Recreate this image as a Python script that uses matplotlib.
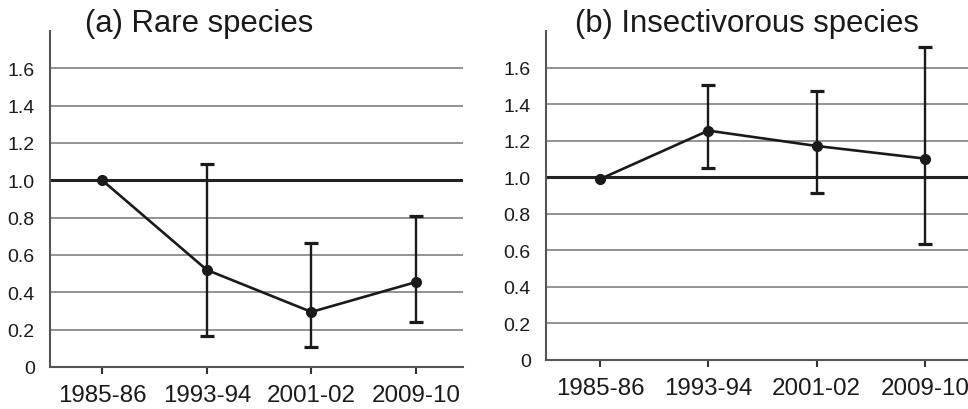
import matplotlib.pyplot as plt

plt.rcParams['font.family'] = ['Liberation Sans', 'DejaVu Sans']

periods = ['1985-86', '1993-94', '2001-02', '2009-10']

rare_mean = [1.0, 0.52, 0.295, 0.455]
rare_low = [1.0, 0.168, 0.106, 0.242]
rare_high = [1.0, 1.088, 0.663, 0.808]

insect_mean = [0.99, 1.255, 1.171, 1.102]
insect_low = [0.99, 1.049, 0.915, 0.634]
insect_high = [0.99, 1.506, 1.473, 1.71]

yticks = [0, 0.2, 0.4, 0.6, 0.8, 1.0, 1.2, 1.4, 1.6]
ytick_labels = ['0', '0.2', '0.4', '0.6', '0.8', '1.0', '1.2', '1.4', '1.6']

fig = plt.figure(figsize=(9.68, 4.10), dpi=100)
W, H = 968, 410


def add_panel(rect_px, title, title_x, mean, low, high):
    x0, x1, ytop, ybot = rect_px
    ax = fig.add_axes([x0 / W, 1 - ybot / H, (x1 - x0) / W, (ybot - ytop) / H])
    xs = list(range(len(periods)))

    for y in yticks[1:]:
        if y == 1.0:
            continue
        ax.axhline(y, color='#8a8a8a', lw=1.3, zorder=1)
    ax.axhline(1.0, color='#222222', lw=2.2, zorder=2)

    # error bars only where there is a spread
    err_x, err_y, err_lo, err_hi = [], [], [], []
    for i, (m, lo, hi) in enumerate(zip(mean, low, high)):
        if hi - lo > 0:
            err_x.append(i)
            err_y.append(m)
            err_lo.append(m - lo)
            err_hi.append(hi - m)
    ax.errorbar(err_x, err_y, yerr=[err_lo, err_hi], fmt='none', ecolor='#1a1a1a',
                elinewidth=1.7, capsize=5, capthick=2.3, zorder=3)
    ax.plot(xs, mean, color='#1a1a1a', lw=1.9, marker='o', ms=7, zorder=4)

    ax.set_xlim(-0.5, 3.45 if x1 < 500 else 3.4)
    ax.set_ylim(0, 1.8)
    ax.set_xticks(xs)
    ax.set_xticklabels(periods, fontsize=17.4, color='#1a1a1a')
    ax.set_yticks(yticks)
    ax.set_yticklabels(ytick_labels, fontsize=14, color='#1a1a1a')
    ax.tick_params(axis='y', length=0, pad=11)
    ax.tick_params(axis='x', length=5, width=1.5, color='#333333', pad=7)

    for side in ('top', 'right'):
        ax.spines[side].set_visible(False)
    for side in ('left', 'bottom'):
        ax.spines[side].set_color('#555555')
        ax.spines[side].set_linewidth(1.5)

    ax.text(title_x, 1.8, title, transform=ax.get_yaxis_transform(), fontsize=22.4,
            ha='left', va='baseline', color='#1a1a1a', clip_on=False)
    return ax


add_panel((50, 463, 32, 368), '(a) Rare species', 0.085, rare_mean, rare_low, rare_high)
add_panel((546, 968, 32, 361), '(b) Insectivorous species', 0.068,
          insect_mean, insect_low, insect_high)

fig.savefig('out.png', dpi=100)
